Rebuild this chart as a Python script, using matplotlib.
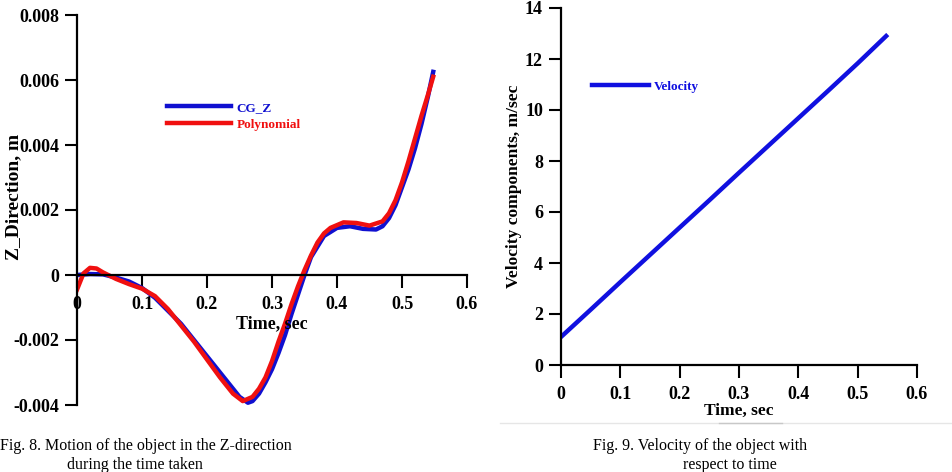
import numpy as np
import matplotlib
matplotlib.use("Agg")
import matplotlib.pyplot as plt
from matplotlib.lines import Line2D

plt.rcParams['font.family'] = ['Liberation Serif', 'DejaVu Serif']

# Fig. 8 data: CG_Z (blue) and polynomial fit (red), z in metres
t_cgz = [0, 0.02, 0.04, 0.06, 0.08, 0.10, 0.12, 0.14, 0.16, 0.18, 0.20, 0.22, 0.24,
         0.25, 0.263, 0.27, 0.28, 0.29, 0.30, 0.31, 0.32, 0.33, 0.34, 0.35, 0.36,
         0.38, 0.40, 0.42, 0.44, 0.46, 0.47, 0.48, 0.49, 0.50, 0.51, 0.52, 0.53,
         0.54, 0.548]
z_cgz = [0, 0.03, 0.02, -0.08, -0.2, -0.4, -0.7, -1.1, -1.5, -2.0, -2.5, -3.0, -3.5,
         -3.75, -3.93, -3.88, -3.65, -3.3, -2.9, -2.4, -1.85, -1.2, -0.6, 0.0, 0.55,
         1.2, 1.45, 1.5, 1.42, 1.4, 1.5, 1.75, 2.15, 2.7, 3.25, 3.9, 4.65,
         5.5, 6.25]
t_poly = [0, 0.01, 0.02, 0.03, 0.04, 0.06, 0.08, 0.10, 0.12, 0.14, 0.16, 0.18, 0.20,
          0.22, 0.24, 0.255, 0.27, 0.28, 0.29, 0.30, 0.31, 0.32, 0.33, 0.34, 0.35,
          0.36, 0.37, 0.38, 0.39, 0.41, 0.43, 0.45, 0.47, 0.48, 0.49, 0.50, 0.51,
          0.52, 0.53, 0.54, 0.548]
z_poly = [-0.45, 0.05, 0.22, 0.2, 0.08, -0.12, -0.28, -0.42, -0.65, -1.05, -1.55, -2.05, -2.6,
          -3.15, -3.65, -3.88, -3.75, -3.5, -3.15, -2.65, -2.05, -1.5, -0.9, -0.35, 0.15,
          0.6, 1.0, 1.28, 1.45, 1.62, 1.6, 1.52, 1.65, 1.9, 2.3, 2.85, 3.5,
          4.2, 4.9, 5.55, 6.1]
z_cgz = np.array(z_cgz) * 1e-3
z_poly = np.array(z_poly) * 1e-3

# Fig. 9 data: velocity, m/sec
t_vel = [0, 0.05, 0.10, 0.15, 0.20, 0.25, 0.30, 0.35, 0.40, 0.45, 0.50, 0.548]
v_vel = [1.1, 2.17, 3.25, 4.32, 5.39, 6.46, 7.54, 8.61, 9.68, 10.75, 11.83, 12.9]

x_ticks = [0, 0.1, 0.2, 0.3, 0.4, 0.5, 0.6]
x_labels = ['0', '0.1', '0.2', '0.3', '0.4', '0.5', '0.6']
z_ticks = [-0.004, -0.002, 0, 0.002, 0.004, 0.006, 0.008]
z_labels = ['-0.004', '-0.002', '0', '0.002', '0.004', '0.006', '0.008']
v_ticks = [0, 2, 4, 6, 8, 10, 12, 14]

W, H = 952, 472
fig = plt.figure(figsize=(W / 100, H / 100), dpi=100)

def style(ax):
    for s in ['top', 'right']:
        ax.spines[s].set_visible(False)
    for s in ['left', 'bottom']:
        ax.spines[s].set_linewidth(1.6)
    ax.tick_params(direction='out', length=9, width=1.5, labelsize=13)
    for lab in ax.get_xticklabels() + ax.get_yticklabels():
        lab.set_fontweight('bold')

# left chart
ax1 = fig.add_axes([77 / W, 1 - 405 / H, 390 / W, 390 / H])
ax1.plot(t_cgz, z_cgz, color='#1010d0', lw=3.2, label='CG_Z')
ax1.plot(t_poly, z_poly, color='#f01010', lw=3.2, label='Polynomial')
ax1.set_xlim(0, 0.6)
ax1.set_ylim(-0.004, 0.008)
ax1.spines['bottom'].set_position(('data', 0))
ax1.set_xticks(x_ticks, x_labels)
ax1.set_yticks(z_ticks, z_labels)
style(ax1)
ax1.tick_params(axis='x', pad=6)
ax1.tick_params(axis='y', pad=4)
ax1.text(0.3, -0.0015, 'Time, sec', ha='center', va='center',
         fontsize=13, fontweight='bold')
ax1.set_ylabel('Z_Direction, m', fontsize=14, fontweight='bold')
ax1.yaxis.set_label_coords(-0.14, 0.533)
ax1.legend(loc='center left', bbox_to_anchor=(0.231, 0.741), frameon=False,
           borderpad=0, borderaxespad=0, handlelength=4.85, handletextpad=0.4,
           labelspacing=0.35, labelcolor='linecolor',
           prop={'size': 9.5, 'weight': 'bold'})

# right chart
ax2 = fig.add_axes([561 / W, 1 - 365 / H, 356 / W, 357 / H])
ax2.plot(t_vel, v_vel, color='#1010e0', lw=3.2, label='Velocity')
ax2.set_xlim(0, 0.6)
ax2.set_ylim(0, 14)
ax2.set_xticks(x_ticks, x_labels)
ax2.set_yticks(v_ticks)
style(ax2)
ax2.tick_params(axis='x', pad=6)
ax2.tick_params(axis='y', pad=4)
ax2.set_xlabel('Time, sec', fontsize=12.5, fontweight='bold', labelpad=0)
ax2.set_ylabel('Velocity components, m/sec', fontsize=12.5, fontweight='bold')
ax2.yaxis.set_label_coords(-0.11, 0.5)
ax2.legend(loc='center left', bbox_to_anchor=(0.087, 0.779), frameon=False,
           borderpad=0, borderaxespad=0, handlelength=4.3, handletextpad=0.4,
           labelcolor='linecolor', prop={'size': 9.5, 'weight': 'bold'})

# faint page rule
fig.add_artist(Line2D([500 / W, 1], [1 - 423 / H] * 2, color='#e6e6e6', lw=1))
fig.add_artist(Line2D([719 / W, 782 / W], [1 - 423 / H] * 2, color='#c8c8c8', lw=1))

# captions
fig.text(0 / W, 1 - 446 / H, 'Fig. 8. Motion of the object in the Z-direction',
         ha='left', va='center', fontsize=11.5)
fig.text(135 / W, 1 - 465 / H, 'during the time taken', ha='center', va='center', fontsize=11.5)
fig.text(700 / W, 1 - 446 / H, 'Fig. 9. Velocity of the object with',
         ha='center', va='center', fontsize=11.5)
fig.text(730 / W, 1 - 465 / H, 'respect to time', ha='center', va='center', fontsize=11.5)

fig.savefig('out.png', dpi=100)
